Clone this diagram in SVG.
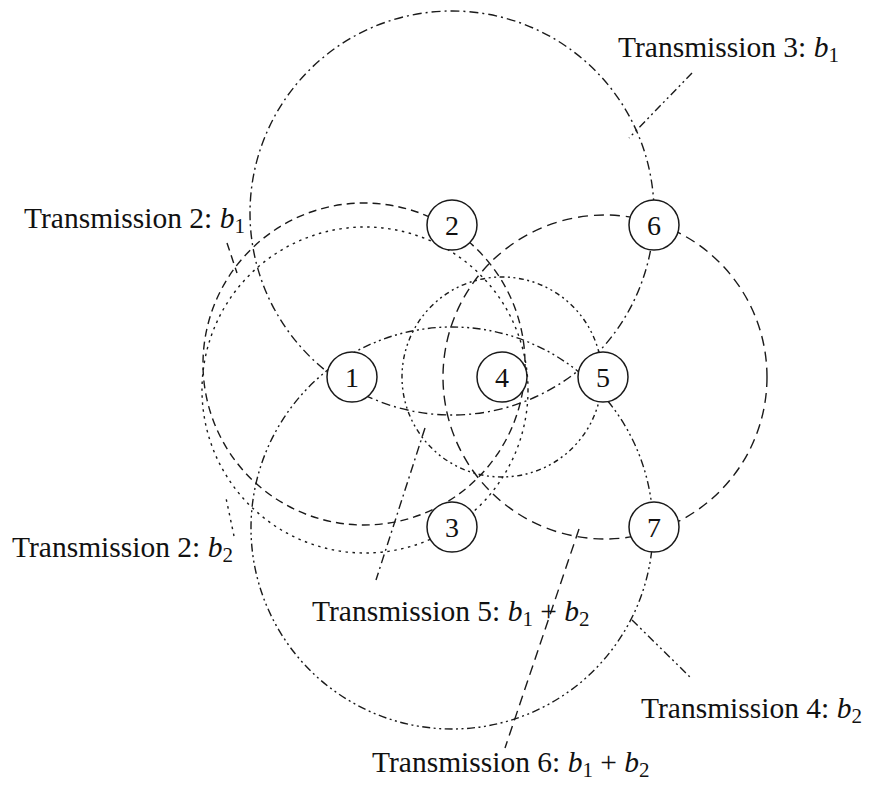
<svg xmlns="http://www.w3.org/2000/svg" width="869" height="785" viewBox="0 0 869 785">
<style>
.rng{fill:none;stroke:#1a1a1a;stroke-width:1.4}
.dd{stroke-dasharray:9 4 2 4}
.ddd{stroke-dasharray:8 3.5 2 3.5 2 3.5}
.dsh{stroke-dasharray:8 5}
.dsh2{stroke-dasharray:10 6}
.dot{stroke-dasharray:2.5 4.5}
.cdd{stroke-dasharray:5 3.5 2 3.5 2 3.5}
.node circle{fill:#fff;stroke:#1a1a1a;stroke-width:1.5}
.node text{font-family:"Liberation Serif","Times New Roman",serif;font-size:28px;fill:#111;text-anchor:middle}
.lbl{font-family:"Liberation Serif","Times New Roman",serif;font-size:29.5px;fill:#111}
.lbl .v{font-style:italic}
.lbl .s{font-size:21px}
</style>
<rect width="869" height="785" fill="#fff"/>
<g id="connectors">
  <circle id="range-t3" class="rng dd" cx="452" cy="213" r="202"/>
  <circle id="range-t4" class="rng ddd" cx="452" cy="528" r="201"/>
  <circle id="range-t5" class="rng cdd" cx="502" cy="377" r="100"/>
  <circle id="range-t2b1" class="rng dsh" cx="364" cy="364" r="161"/>
  <circle id="range-t2b2" class="rng dot" cx="365" cy="390" r="163"/>
  <circle id="range-t6" class="rng dsh2" cx="605" cy="377" r="162"/>
  <line class="rng ddd" x1="692" y1="73" x2="629" y2="138"/>
  <line class="rng dsh" x1="227" y1="243" x2="237" y2="273"/>
  <line class="rng dot" x1="234" y1="536" x2="226" y2="498"/>
  <line class="rng dd" x1="425" y1="428" x2="376" y2="580"/>
  <line class="rng dsh2" x1="579" y1="529" x2="505" y2="748"/>
  <line class="rng ddd" x1="632" y1="620" x2="692" y2="679"/>
</g>
<g id="node-1" class="node"><circle cx="352" cy="377" r="25"/><text x="352" y="387">1</text></g>
<g id="node-2" class="node"><circle cx="452" cy="225" r="25"/><text x="452" y="235">2</text></g>
<g id="node-3" class="node"><circle cx="452" cy="527" r="25"/><text x="452" y="537">3</text></g>
<g id="node-4" class="node"><circle cx="502" cy="377" r="25"/><text x="502" y="387">4</text></g>
<g id="node-5" class="node"><circle cx="603" cy="377" r="25"/><text x="603" y="387">5</text></g>
<g id="node-6" class="node"><circle cx="654" cy="225" r="25"/><text x="654" y="235">6</text></g>
<g id="node-7" class="node"><circle cx="654" cy="527" r="25"/><text x="654" y="537">7</text></g>
<g id="labels">
  <text class="lbl" x="618" y="57">Transmission 3: <tspan class="v">b</tspan><tspan class="s" dy="5">1</tspan></text>
  <text class="lbl" x="24" y="228">Transmission 2: <tspan class="v">b</tspan><tspan class="s" dy="5">1</tspan></text>
  <text class="lbl" x="12" y="557">Transmission 2: <tspan class="v">b</tspan><tspan class="s" dy="5">2</tspan></text>
  <text class="lbl" x="312" y="621">Transmission 5: <tspan class="v">b</tspan><tspan class="s" dy="5">1</tspan><tspan dy="-5"> + </tspan><tspan class="v">b</tspan><tspan class="s" dy="5">2</tspan></text>
  <text class="lbl" x="641" y="718">Transmission 4: <tspan class="v">b</tspan><tspan class="s" dy="5">2</tspan></text>
  <text class="lbl" x="372" y="772">Transmission 6: <tspan class="v">b</tspan><tspan class="s" dy="5">1</tspan><tspan dy="-5"> + </tspan><tspan class="v">b</tspan><tspan class="s" dy="5">2</tspan></text>
</g>
</svg>
